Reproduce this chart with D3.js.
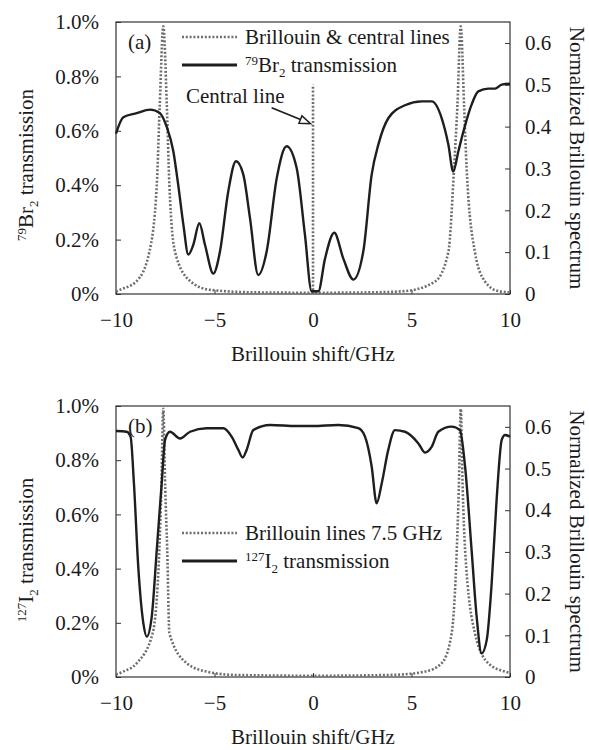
<!DOCTYPE html>
<html>
<head>
<meta charset="utf-8">
<script src="https://cdn.jsdelivr.net/npm/d3@7"></script>
<style>
  body { margin: 0; background: #fff; }
</style>
</head>
<body>
<svg width="589" height="750"></svg>
<script>
"use strict";

// eixo x (GHz) e marcas
var xTicks = [-10, -5, 0, 5, 10];
var leftTicks = [0, 0.2, 0.4, 0.6, 0.8, 1.0];
var leftTickLabels = ["0%", "0.2%", "0.4%", "0.6%", "0.8%", "1.0%"];
var rightTicks = [0, 0.1, 0.2, 0.3, 0.4, 0.5, 0.6];

// (a) 79Br2 transmission, [GHz, %]
var br79Transmission = [
    [-10, 0.59], [-9.63, 0.65], [-8.95, 0.665], [-8.27, 0.678], [-7.77, 0.665],
    [-7.43, 0.615], [-7.09, 0.525], [-6.84, 0.40], [-6.58, 0.255], [-6.33, 0.145],
    [-6.08, 0.18], [-5.77, 0.26], [-5.48, 0.18], [-5.06, 0.075], [-4.72, 0.157],
    [-4.3, 0.378], [-3.91, 0.488], [-3.54, 0.44], [-3.2, 0.28], [-2.78, 0.07],
    [-2.35, 0.157], [-1.84, 0.426], [-1.34, 0.543], [-0.83, 0.463], [-0.41, 0.218],
    [-0.07, 0.01], [0.27, 0.01], [0.61, 0.13], [1.08, 0.225], [1.54, 0.13],
    [2.05, 0.053], [2.56, 0.16], [2.98, 0.44], [3.32, 0.55], [3.83, 0.647],
    [4.67, 0.694], [5.52, 0.708], [6.03, 0.708], [6.53, 0.647], [6.87, 0.55],
    [7.12, 0.45], [7.38, 0.525], [7.72, 0.62], [8.05, 0.696], [8.39, 0.745],
    [8.9, 0.755], [9.24, 0.755], [9.58, 0.77], [10, 0.773]
];

// (a) Brillouin lines, [GHz, normalized]
var brillouinA = [
    [-10, 0.006], [-9.8, 0.01], [-8.95, 0.031], [-8.31, 0.10], [-7.93, 0.26],
    [-7.78, 0.45], [-7.6, 0.64], [-7.42, 0.45], [-7.29, 0.26], [-7.0, 0.10],
    [-6.24, 0.031], [-5.23, 0.01], [-3, 0.004], [0, 0.003], [3, 0.004],
    [4.67, 0.007], [6.2, 0.03], [6.87, 0.10], [7.16, 0.30], [7.33, 0.45],
    [7.5, 0.64], [7.67, 0.45], [7.8, 0.30], [8.22, 0.10], [8.73, 0.03],
    [9.4, 0.007], [10, 0.004]
];
var centralLine = [[0, 0], [0, 0.5]];

// (b) 127I2 transmission, [GHz, %]
var i127Transmission = [
    [-10, 0.908], [-9.46, 0.905], [-9.26, 0.887], [-9.09, 0.715], [-8.87, 0.407],
    [-8.61, 0.198], [-8.44, 0.149], [-8.19, 0.22], [-7.93, 0.469], [-7.68, 0.715],
    [-7.51, 0.875], [-7.26, 0.905], [-6.75, 0.88], [-6.24, 0.905], [-5.4, 0.918],
    [-4.55, 0.918], [-4.13, 0.887], [-3.79, 0.838], [-3.57, 0.81], [-3.37, 0.838],
    [-3.03, 0.911], [-2.18, 0.93], [-0.83, 0.926], [0, 0.926], [1.28, 0.93],
    [2.3, 0.918], [2.64, 0.887], [2.98, 0.776], [3.23, 0.641], [3.49, 0.715],
    [3.82, 0.838], [4.16, 0.911], [4.67, 0.905], [5.35, 0.862], [5.69, 0.828],
    [6.03, 0.85], [6.36, 0.905], [7.04, 0.924], [7.46, 0.911], [7.72, 0.776],
    [8.05, 0.469], [8.31, 0.22], [8.56, 0.087], [8.82, 0.137], [9.07, 0.346],
    [9.32, 0.653], [9.58, 0.875], [9.75, 0.893], [10, 0.887]
];

// (b) Brillouin lines 7.5 GHz, [GHz, normalized]
var brillouinB = [
    [-10, 0.006], [-9.63, 0.013], [-8.95, 0.033], [-8.14, 0.105], [-7.8, 0.306],
    [-7.7, 0.45], [-7.6, 0.643], [-7.5, 0.45], [-7.4, 0.306], [-7.29, 0.105],
    [-6.41, 0.033], [-5.4, 0.013], [-4, 0.005], [0, 0.003], [4, 0.005],
    [5.69, 0.013], [6.53, 0.033], [7.04, 0.105], [7.3, 0.306], [7.4, 0.45],
    [7.5, 0.643], [7.6, 0.45], [7.72, 0.306], [8.22, 0.105], [8.9, 0.033],
    [9.75, 0.013], [10, 0.01]
];

var svg = d3.select("svg");
var FS = 21;
var FONT = "'Liberation Serif', 'Times New Roman', Times, serif";

// texto com sobrescrito / subscrito
function richText(g, parts) {
    var t = g.append("text");
    var shift = 0;
    parts.forEach(function (p) {
        var target = p.s === "sup" ? -7 : (p.s === "sub" ? 5 : 0);
        t.append("tspan")
            .attr("dy", target - shift)
            .style("font-size", (p.s ? 13 : FS) + "px")
            .text(p.t);
        shift = target;
    });
    return t;
}

function drawPanel(cfg) {
    var x = d3.scaleLinear().domain([-10, 10]).range([116, 510]);
    var yL = d3.scaleLinear().domain([0, 1.0]).range([cfg.bottom, cfg.top]);
    var yR = d3.scaleLinear().domain([0, 0.65]).range([cfg.bottom, cfg.top]);
    var g = svg.append("g");

    // eixos
    var axL = g.append("g").attr("transform", "translate(116,0)")
        .call(d3.axisLeft(yL).tickValues(leftTicks).tickSize(-5).tickPadding(17)
            .tickFormat(function (d, i) { return leftTickLabels[i]; }));
    var axR = g.append("g").attr("transform", "translate(510,0)")
        .call(d3.axisRight(yR).tickValues(rightTicks).tickSize(-5).tickPadding(15)
            .tickFormat(d3.format(".1~f")));
    var axB = g.append("g").attr("transform", "translate(0," + cfg.bottom + ")")
        .call(d3.axisBottom(x).tickValues(xTicks).tickSize(-4).tickPadding(18)
            .tickFormat(function (d) { return d < 0 ? "\u2212" + Math.abs(d) : d; }));
    [axL, axR, axB].forEach(function (a) {
        a.attr("font-family", null).attr("font-size", null);
        a.select(".domain").remove();
        a.selectAll("line").attr("stroke", "#333");
        a.selectAll("text").style("font-size", FS + "px");
    });

    g.append("rect")
        .attr("x", 116).attr("y", cfg.top)
        .attr("width", 394).attr("height", cfg.bottom - cfg.top)
        .attr("fill", "none").attr("stroke", "#333").attr("stroke-width", 1.2);

    var lineL = d3.line().x(function (d) { return x(d[0]); })
        .y(function (d) { return yL(d[1]); }).curve(d3.curveMonotoneX);
    var lineR = d3.line().x(function (d) { return x(d[0]); })
        .y(function (d) { return yR(d[1]); }).curve(d3.curveMonotoneX);

    var dotted = function (sel) {
        sel.attr("fill", "none").attr("stroke", "#6e6e6e")
            .attr("stroke-width", 2.6).attr("stroke-dasharray", "2,1.8");
    };

    g.append("path").datum(cfg.bril).attr("d", lineR).call(dotted);
    if (cfg.central) {
        g.append("path").datum(cfg.central)
            .attr("d", d3.line().x(function (d) { return x(d[0]); })
                .y(function (d) { return yR(d[1]); }))
            .call(dotted);
    }
    g.append("path").datum(cfg.trans).attr("d", lineL)
        .attr("fill", "none").attr("stroke", "#1e1e1e").attr("stroke-width", 2.4)
        .attr("stroke-linejoin", "round");

    // letra do painel
    g.append("text").attr("x", 128).attr("y", cfg.letterY)
        .style("font-size", FS + "px").text(cfg.letter);

    // legenda
    g.append("line").attr("x1", 182).attr("x2", 237)
        .attr("y1", cfg.legY).attr("y2", cfg.legY).call(dotted);
    g.append("text").attr("x", 245).attr("y", cfg.legY + 7)
        .style("font-size", FS + "px").text(cfg.legDotted);
    g.append("line").attr("x1", 182).attr("x2", 237)
        .attr("y1", cfg.legY + 28).attr("y2", cfg.legY + 28)
        .attr("stroke", "#1e1e1e").attr("stroke-width", 3);
    richText(g, cfg.legSolid).attr("x", 245).attr("y", cfg.legY + 35);

    // rotulos dos eixos
    var midY = (cfg.top + cfg.bottom) / 2;
    g.append("text")
        .attr("x", 313).attr("y", cfg.bottom + 67)
        .attr("text-anchor", "middle").style("font-size", FS + "px")
        .text("Brillouin shift/GHz");
    richText(g, cfg.yLabel)
        .attr("text-anchor", "middle")
        .attr("transform", "translate(33," + cfg.yLabelY + ") rotate(-90)");
    g.append("text")
        .attr("text-anchor", "middle").style("font-size", FS + "px")
        .attr("transform", "translate(570," + midY + ") rotate(90)")
        .text("Normalized Brillouin spectrum");

    if (cfg.annot) {
        var a = cfg.annot;
        g.append("text").attr("x", 186).attr("y", 103)
            .style("font-size", FS + "px").text(a.text);
        var x1 = x(a.from[0]), y1 = yR(a.from[1]);
        var x2 = x(a.to[0]), y2 = yR(a.to[1]);
        var ang = Math.atan2(y2 - y1, x2 - x1);
        var hl = 11, hw = 4;
        var bx = x2 - hl * Math.cos(ang), by = y2 - hl * Math.sin(ang);
        g.append("line").attr("x1", x1).attr("y1", y1).attr("x2", bx).attr("y2", by)
            .attr("stroke", "#1e1e1e").attr("stroke-width", 1.8);
        g.append("polygon")
            .attr("points", [
                [x2, y2],
                [bx + hw * Math.sin(ang), by - hw * Math.cos(ang)],
                [bx - hw * Math.sin(ang), by + hw * Math.cos(ang)]
            ].map(function (p) { return p.join(","); }).join(" "))
            .attr("fill", "#fff").attr("stroke", "#1e1e1e").attr("stroke-width", 1.5);
    }
}

drawPanel({
    top: 22, bottom: 294,
    trans: br79Transmission, bril: brillouinA, central: centralLine,
    letter: "(a)", letterY: 49,
    legY: 37,
    legDotted: "Brillouin & central lines",
    legSolid: [{t: "79", s: "sup"}, {t: "Br"}, {t: "2", s: "sub"}, {t: " transmission"}],
    yLabel: [{t: "79", s: "sup"}, {t: "Br"}, {t: "2", s: "sub"}, {t: " transmission"}],
    yLabelY: 165,
    annot: {text: "Central line", from: [-2.1, 0.445], to: [-0.12, 0.407]}
});

drawPanel({
    top: 406, bottom: 677,
    trans: i127Transmission, bril: brillouinB, central: null,
    letter: "(b)", letterY: 433,
    legY: 533,
    legDotted: "Brillouin lines 7.5 GHz",
    legSolid: [{t: "127", s: "sup"}, {t: "I"}, {t: "2", s: "sub"}, {t: " transmission"}],
    yLabel: [{t: "127", s: "sup"}, {t: "I"}, {t: "2", s: "sub"}, {t: " transmission"}],
    yLabelY: 550,
    annot: null
});

// fonte serifada em todos os textos
svg.selectAll("text").style("font-family", FONT).attr("fill", "#1a1a1a");
</script>
</body>
</html>
